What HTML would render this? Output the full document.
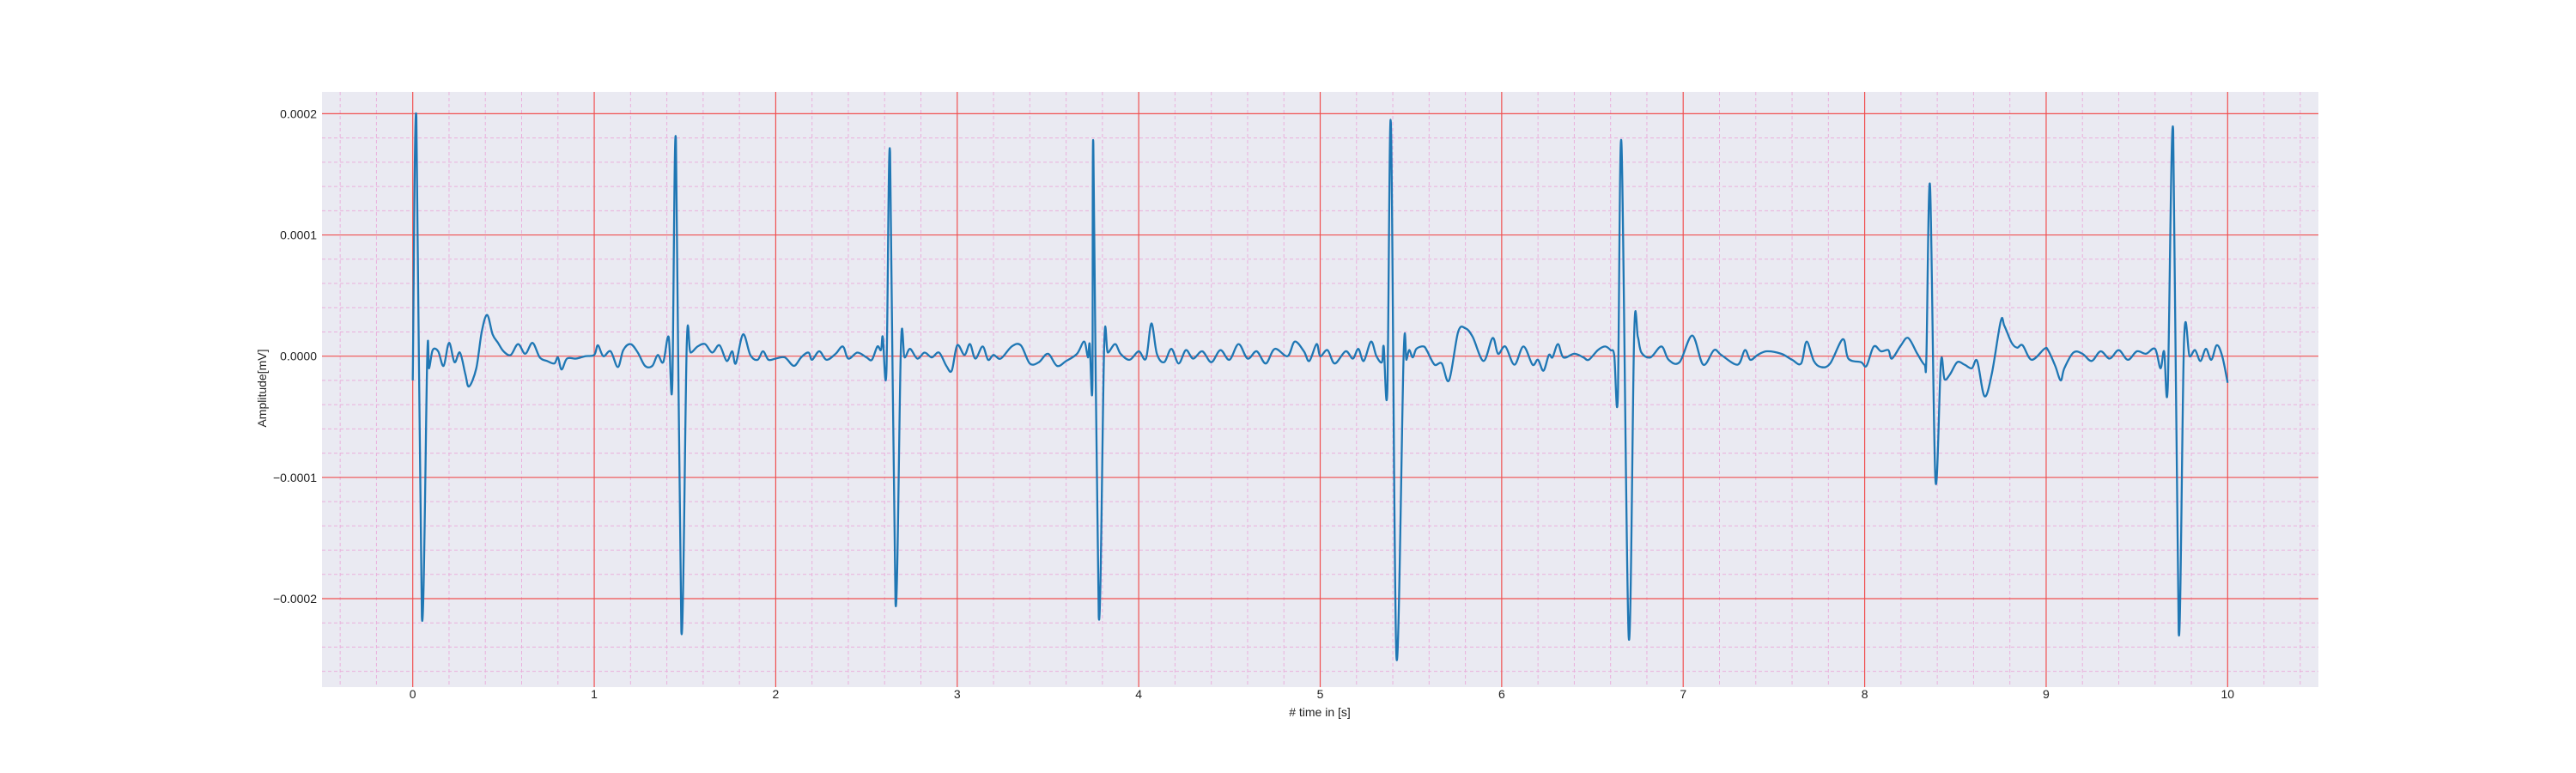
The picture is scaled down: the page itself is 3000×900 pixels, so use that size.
<!DOCTYPE html>
<html><head><meta charset="utf-8"><style>
html,body{margin:0;padding:0;background:#fff;}
svg{display:block;font-family:"Liberation Sans",sans-serif;}
</style></head><body>
<svg id="chart" width="3000" height="900" viewBox="0 0 3000 900" xmlns="http://www.w3.org/2000/svg">
<rect x="375" y="107" width="2325" height="693" fill="#eaeaf2"/>
<g id="grid"></g>
<g id="series"></g>
<g id="ticks"></g>
<text x="1537" y="834" font-size="14" text-anchor="middle" fill="#222">#  time in [s]</text>
<text x="310" y="452" font-size="14" text-anchor="middle" fill="#222" transform="rotate(-90 310 452)">Amplitude[mV]</text>
</svg>
<script>
const xTicks=[0,1,2,3,4,5,6,7,8,9,10];
const yTicks=[-0.0002,-0.0001,0,0.0001,0.0002];
const yTickLabels=["\u22120.0002","\u22120.0001","0.0000","0.0001","0.0002"];
const times=[0,0.02,0.05,0.08,0.09,0.11,0.14,0.17,0.2,0.23,0.26,0.29,0.31,0.35,0.38,0.41,0.44,0.47,0.5,0.54,0.58,0.62,0.66,0.7,0.74,0.78,0.8,0.82,0.85,0.9,0.95,1.0,1.02,1.05,1.09,1.13,1.16,1.2,1.24,1.28,1.32,1.35,1.38,1.41,1.43,1.45,1.48,1.51,1.53,1.57,1.61,1.65,1.69,1.73,1.76,1.78,1.82,1.86,1.9,1.93,1.96,2.0,2.05,2.1,2.14,2.18,2.2,2.24,2.28,2.33,2.37,2.4,2.45,2.5,2.53,2.56,2.58,2.59,2.61,2.63,2.66,2.69,2.71,2.74,2.78,2.82,2.86,2.9,2.94,2.97,3.0,3.04,3.07,3.1,3.14,3.17,3.2,3.24,3.3,3.35,3.4,3.45,3.5,3.55,3.6,3.66,3.7,3.72,3.73,3.745,3.75,3.78,3.81,3.83,3.87,3.9,3.95,4.0,4.04,4.07,4.1,4.14,4.18,4.22,4.26,4.3,4.35,4.4,4.45,4.5,4.55,4.6,4.65,4.7,4.75,4.82,4.86,4.91,4.94,4.98,5.0,5.04,5.08,5.14,5.18,5.21,5.24,5.28,5.31,5.34,5.35,5.37,5.39,5.42,5.46,5.475,5.49,5.51,5.53,5.57,5.59,5.63,5.67,5.71,5.76,5.8,5.84,5.9,5.95,5.98,6.02,6.07,6.12,6.17,6.2,6.23,6.26,6.28,6.31,6.34,6.4,6.45,6.48,6.53,6.57,6.6,6.62,6.64,6.66,6.7,6.73,6.75,6.77,6.82,6.88,6.92,6.98,7.05,7.11,7.17,7.21,7.3,7.34,7.37,7.41,7.46,7.54,7.6,7.65,7.68,7.72,7.76,7.81,7.88,7.91,7.98,8.01,8.05,8.09,8.13,8.15,8.2,8.24,8.29,8.33,8.34,8.36,8.39,8.42,8.44,8.47,8.51,8.55,8.59,8.62,8.66,8.7,8.75,8.77,8.81,8.84,8.87,8.92,8.99,9.01,9.05,9.08,9.1,9.15,9.2,9.25,9.3,9.35,9.4,9.45,9.5,9.55,9.6,9.63,9.65,9.67,9.7,9.73,9.76,9.79,9.82,9.85,9.88,9.91,9.94,9.97,10.0];
const values=[-2,19.7,-21.5,0,-1,0.5,0.4,-0.8,1.1,-0.5,0.3,-1.5,-2.5,-1,2,3.4,1.8,1.1,0.4,0.1,1,0.2,1.1,-0.1,-0.4,-0.6,-0.1,-1.1,-0.2,-0.2,0,0.1,0.9,0,0.4,-0.9,0.5,1,0.3,-0.8,-0.8,0.1,-0.5,1.6,-2.5,17.8,-22.7,1,0.3,0.8,1,0.3,0.9,-0.4,0.4,-0.6,1.8,0.1,-0.3,0.4,-0.3,-0.2,-0.1,-0.8,-0.1,0.3,-0.3,0.4,-0.3,0.2,0.8,-0.2,0.3,-0.1,-0.3,0.8,0.5,1.6,-1.3,16.8,-20.4,1,-0.1,0.6,-0.2,0.3,-0.1,0.3,-0.8,-1.2,0.9,0.1,1,-0.2,0.8,-0.3,0.1,-0.2,0.8,0.9,-0.6,-0.5,0.2,-0.8,-0.4,0.2,1.2,-0.1,1,-2.5,17.5,-21.5,1,0.3,1,0.2,-0.3,0.4,-0.2,2.7,0.2,-0.5,0.6,-0.6,0.5,-0.2,0.4,-0.5,0.5,-0.3,1,-0.2,0.4,-0.6,0.6,0,1.2,0.4,-0.4,1,0,0.5,-0.6,0.4,-0.2,0.6,-0.4,1.2,0,-0.5,0.8,-2.8,19.1,-24.8,0.2,-0.3,0.5,-0.1,0.6,0.8,0.4,-0.7,-0.6,-2,2,2.3,1.6,-0.4,1.5,0.2,0.8,-0.7,0.8,-0.7,-0.3,-1.2,0.1,-0.1,1,-0.1,0.2,-0.1,-0.3,0.5,0.8,0.5,0.1,-3.4,17.5,-23.2,1.9,1.6,0.3,-0.1,0.8,-0.3,-0.5,1.7,-0.7,0.5,0.1,-0.7,0.5,-0.3,0.1,0.4,0.2,-0.3,-0.6,1.2,-0.4,-0.9,-0.6,1.4,-0.2,-0.5,-0.8,0.8,0.4,0.5,-0.2,0.9,1.5,0.2,-0.7,0,14.1,-10.2,-0.5,-1.9,-1.5,-0.5,-0.7,-1,-0.4,-3.3,-1.5,2.9,2.5,1.1,0.7,0.9,-0.3,0.6,0.5,-0.8,-2,-1,0.3,0.2,-0.4,0.4,-0.2,0.5,-0.3,0.4,0.2,0.6,-1,0.4,-2.5,18.6,-22.8,1.4,0,0.5,-0.4,0.6,-0.3,0.9,0,-2.2];
const valueScale=1e-5;
const X0=375,X1=2700,Y0=107,Y1=800,XMIN=-0.5,XMAX=10.5,YMIN=-0.000273,YMAX=0.000218;
function sx(t){return X0+(t-XMIN)/(XMAX-XMIN)*(X1-X0);}
function sy(v){return Y1-(v-YMIN)/(YMAX-YMIN)*(Y1-Y0);}
const NS="http://www.w3.org/2000/svg";
const grid=document.getElementById('grid');
function line(x1,y1,x2,y2,stroke,w,dash,name){
 const l=document.createElementNS(NS,'line');
 l.setAttribute('x1',x1);l.setAttribute('y1',y1);l.setAttribute('x2',x2);l.setAttribute('y2',y2);
 l.setAttribute('stroke',stroke);l.setAttribute('stroke-width',w);
 if(dash)l.setAttribute('stroke-dasharray',dash);
 
 
 grid.appendChild(l);
}
for(let i=-2;i<=52;i++){const t=i*0.2;if(t<XMIN||t>XMAX)continue;if(Math.abs(t-Math.round(t))<1e-6)continue;line(sx(t),Y0,sx(t),Y1,'#eab0dc',1,'4,3','minor-x-grid');}
for(let i=-14;i<=11;i++){const v=i*0.00002;if(v<YMIN||v>YMAX)continue;if(i%5===0)continue;line(X0,sy(v),X1,sy(v),'#eab0dc',1,'4,3','minor-y-grid');}
xTicks.forEach(t=>line(sx(t),Y0,sx(t),Y1,'#f05050',1.2,null,'major-x-grid'));
yTicks.forEach(v=>line(X0,sy(v),X1,sy(v),'#f05050',1.2,null,'major-y-grid'));
const tg=document.getElementById('ticks');
xTicks.forEach(t=>{const e=document.createElementNS(NS,'text');e.setAttribute('x',sx(t));e.setAttribute('y',813);e.setAttribute('font-size','14');e.setAttribute('text-anchor','middle');e.setAttribute('fill','#222');e.textContent=String(t);


tg.appendChild(e);});
yTicks.forEach((v,i)=>{const e=document.createElementNS(NS,'text');e.setAttribute('x',369);e.setAttribute('y',sy(v)+5);e.setAttribute('font-size','14');e.setAttribute('text-anchor','end');e.setAttribute('fill','#222');e.textContent=yTickLabels[i];


tg.appendChild(e);});
const pts=times.map((t,i)=>[sx(t),sy(values[i]*valueScale)]);
let d='M'+pts[0][0].toFixed(1)+','+pts[0][1].toFixed(1);
for(let i=0;i<pts.length-1;i++){
 const p0=pts[Math.max(0,i-1)],p1=pts[i],p2=pts[i+1],p3=pts[Math.min(pts.length-1,i+2)];
 const c1x=p1[0]+(p2[0]-p0[0])/6,c1y=p1[1]+(p2[1]-p0[1])/6;
 const c2x=p2[0]-(p3[0]-p1[0])/6,c2y=p2[1]-(p3[1]-p1[1])/6;
 d+='C'+c1x.toFixed(1)+','+c1y.toFixed(1)+' '+c2x.toFixed(1)+','+c2y.toFixed(1)+' '+p2[0].toFixed(1)+','+p2[1].toFixed(1);
}
const p=document.createElementNS(NS,'path');
p.setAttribute('d',d);p.setAttribute('fill','none');p.setAttribute('stroke','#1f77b4');p.setAttribute('stroke-width','2.3');p.setAttribute('stroke-linejoin','round');


document.getElementById('series').appendChild(p);
</script>
</body></html>
